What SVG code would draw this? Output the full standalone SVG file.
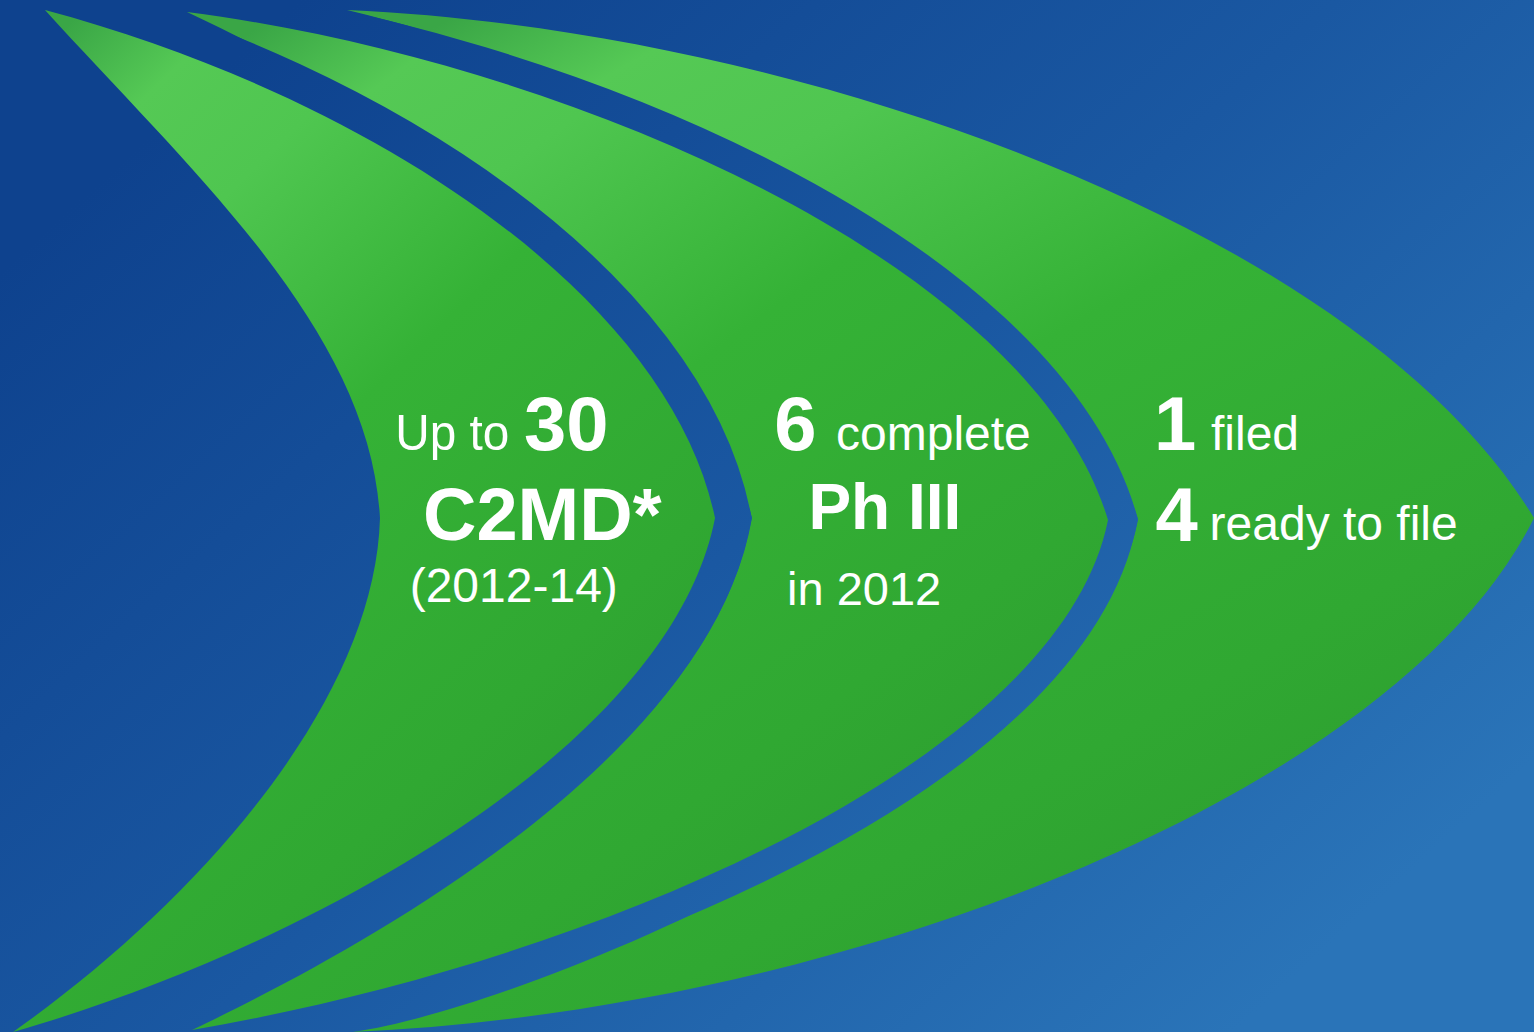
<svg xmlns="http://www.w3.org/2000/svg" width="1534" height="1032" viewBox="0 0 1534 1032">
  <defs>
    <!-- backdrop blue, also reused as the stroke that cuts the gaps between the arrows -->
    <linearGradient id="bg" gradientUnits="userSpaceOnUse" x1="300" y1="0" x2="1234" y2="1032">
      <stop offset="0" stop-color="#0e428e"/>
      <stop offset="0.5" stop-color="#1a58a2"/>
      <stop offset="1" stop-color="#2a74b8"/>
    </linearGradient>
    <linearGradient id="leaf" x1="0.1" y1="0" x2="0.75" y2="1">
      <stop offset="0" stop-color="#3aa646"/>
      <stop offset="0.1" stop-color="#55c955"/>
      <stop offset="0.22" stop-color="#4fc650"/>
      <stop offset="0.45" stop-color="#35b236"/>
      <stop offset="0.75" stop-color="#30a832"/>
      <stop offset="1" stop-color="#2c9a2e"/>
    </linearGradient>
  </defs>
  <style>
    .leaf { fill: url(#leaf); }
    .cut { stroke: url(#bg); paint-order: stroke; stroke-linejoin: miter; }
    text { font-family: "Liberation Sans", Arial, sans-serif; fill: #ffffff; font-size: 48px; }
    .num { font-weight: bold; font-size: 76px; }
  </style>

  <rect width="1534" height="1032" fill="url(#bg)"/>

  <!-- back arrow -->
  <g id="stage-3">
    <path class="leaf" d="M347,10 C800,30 1360,230 1534,518 C1400,790 850,1010 353,1032 C540,1005 1090,770 1138,520 C1070,280 640,80 347,10 Z"/>
    <text class="num" x="1154" y="450">1</text>
    <text x="1211" y="450">filed</text>
    <text class="num" x="1155.6" y="541">4</text>
    <text x="1209.6" y="540">ready to file</text>
  </g>

  <!-- middle arrow -->
  <g id="stage-2">
    <path class="leaf cut" stroke-width="58" d="M187,12 C560,60 1030,260 1108,520 C1060,760 600,960 192,1030 C360,950 710,760 752,518 C700,320 400,110 187,12 Z"/>
    <text class="num" x="774.3" y="450">6</text>
    <text x="836" y="450">complete</text>
    <text class="num" x="808.4" y="529" style="font-size:64px">Ph III</text>
    <text x="787" y="605" style="font-size:47px">in 2012</text>
  </g>

  <!-- front arrow -->
  <g id="stage-1">
    <path class="leaf cut" stroke-width="72" d="M45,10 C380,100 670,300 715,518 C670,750 300,950 13,1032 C200,900 375,700 380,518 C370,330 190,170 45,10 Z"/>
    <text x="395.2" y="450" style="font-size:50px" textLength="114" lengthAdjust="spacingAndGlyphs">Up to</text>
    <text class="num" x="524" y="450">30</text>
    <text class="num" x="423" y="540" style="font-size:74px">C2MD*</text>
    <text x="409.7" y="602">(2012-14)</text>
  </g>
</svg>
